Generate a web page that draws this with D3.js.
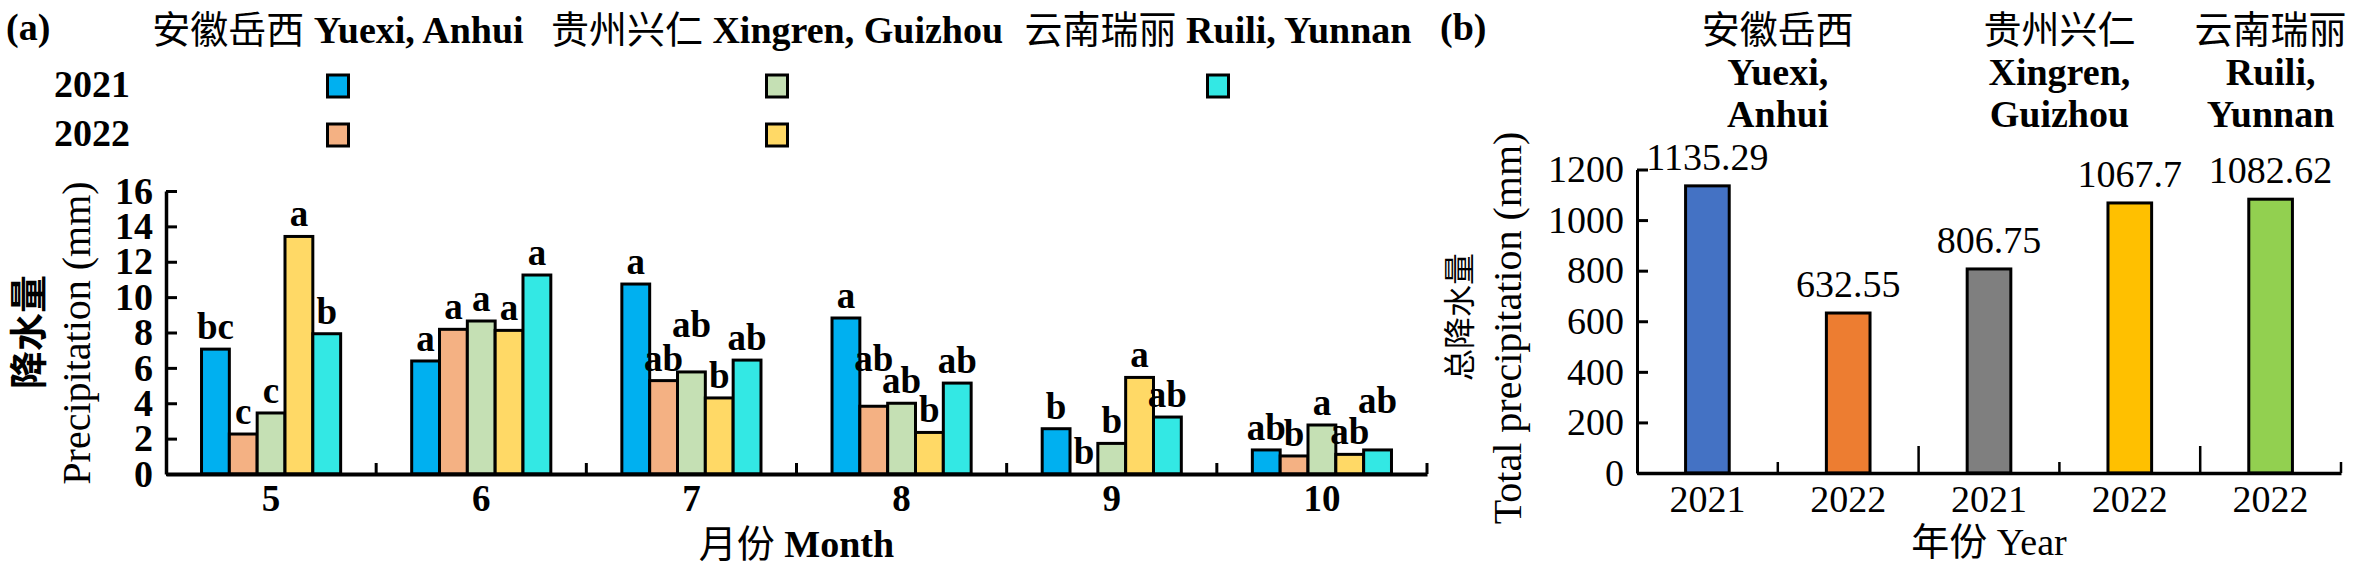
<!DOCTYPE html>
<html><head><meta charset="utf-8">
<script src="https://cdn.jsdelivr.net/npm/d3@7"></script>
<style>
body{margin:0;background:#fff}
text{font-family:"Liberation Serif","Noto Sans CJK SC",serif;fill:#000}
</style>
</head><body>
<svg id="c" width="2360" height="578"></svg>
<script>
// ---------- Panel (a) data ----------
const months = ["5","6","7","8","9","10"];
const seriesKeys = ["anhui2021","anhui2022","guizhou2021","guizhou2022","yunnan2021"];
const anhui2021   = [7.06, 6.39, 10.74, 8.82, 2.56, 1.36];
const anhui2022   = [2.26, 8.18, 5.28, 3.83, 0.00, 1.02];
const guizhou2021 = [3.45, 8.65, 5.77, 4.00, 1.73, 2.77];
const guizhou2022 = [13.43, 8.12, 4.30, 2.35, 5.46, 1.11];
const yunnan2021  = [7.93, 11.25, 6.44, 5.14, 3.22, 1.36];
const lettersAnhui2021   = ["bc","a","a","a","b","ab"];
const lettersAnhui2022   = ["c","a","ab","ab","b","b"];
const lettersGuizhou2021 = ["c","a","ab","ab","b","a"];
const lettersGuizhou2022 = ["a","a","b","b","a","ab"];
const lettersYunnan2021  = ["b","a","ab","ab","ab","ab"];
const yTicksA = [0,2,4,6,8,10,12,14,16];
const siteHeaders = [["安徽岳西"," Yuexi, Anhui"],["贵州兴仁"," Xingren, Guizhou"],["云南瑞丽"," Ruili, Yunnan"]];
const legendYears = ["2021","2022"];

// ---------- Panel (b) data ----------
const totalSites = ["安徽岳西","安徽岳西","贵州兴仁","贵州兴仁","云南瑞丽"];
const totalYears = ["2021","2022","2021","2022","2022"];
const totalValues = [1135.29, 632.55, 806.75, 1067.7, 1082.62];
const totalLabels = ["1135.29","632.55","806.75","1067.7","1082.62"];
const siteNamesB = [["安徽岳西","Yuexi,","Anhui"],["贵州兴仁","Xingren,","Guizhou"],["云南瑞丽","Ruili,","Yunnan"]];
const yTicksB = [0,200,400,600,800,1000,1200];

// ---------- styles ----------
const colorsA = ["#00B0F0","#F4B183","#C5E0B4","#FFD966","#33E8E4"];
const colorsB = ["#4472C4","#ED7D31","#7F7F7F","#FFC000","#92D050"];
const FONT = "'Liberation Serif','Noto Sans CJK SC',serif";

const svg = d3.select("#c");
const seriesVals = [anhui2021, anhui2022, guizhou2021, guizhou2022, yunnan2021];
const seriesLetters = [lettersAnhui2021, lettersAnhui2022, lettersGuizhou2021, lettersGuizhou2022, lettersYunnan2021];

// ================= Panel (a) =================
const A = {x0:166, x1:1427, y0:474, y1:191};
const xM = d3.scaleBand().domain(months).range([A.x0, A.x1]).paddingInner(0.338).paddingOuter(0.169);
const xS = d3.scaleBand().domain(seriesKeys).range([0, xM.bandwidth()]);
const yA = d3.scaleLinear().domain([0,16]).range([A.y0, A.y1]);

const gA = svg.append("g");
const flat = [];
months.forEach((m,i)=>seriesKeys.forEach((k,j)=>flat.push({m, k, j, v:seriesVals[j][i], l:seriesLetters[j][i]})));

gA.selectAll("rect.bar").data(flat).join("rect")
  .attr("x", d=>xM(d.m)+xS(d.k)).attr("width", xS.bandwidth())
  .attr("y", d=>yA(d.v)).attr("height", d=>yA(0)-yA(d.v))
  .attr("fill", d=>colorsA[d.j]).attr("stroke","#000").attr("stroke-width",3);

const lift = {"7-2":25, "8-1":25, "10-4":27};
gA.selectAll("text.let").data(flat).join("text")
  .attr("x", d=>xM(d.m)+xS(d.k)+xS.bandwidth()/2)
  .attr("y", d=>yA(d.v)-10-(lift[d.m+"-"+d.j]||0))
  .attr("text-anchor","middle").attr("font-size",37).attr("font-weight","bold")
  .text(d=>d.l);

// y axis
const axA = gA.append("g").attr("transform",`translate(${A.x0},0)`)
  .call(d3.axisLeft(yA).tickValues(yTicksA).tickFormat(d3.format("d")).tickSizeInner(-11).tickSizeOuter(0).tickPadding(13));
axA.attr("font-family",FONT);
axA.select(".domain").attr("stroke-width",3.5);
axA.selectAll(".tick line").attr("stroke-width",3);
axA.selectAll("text").attr("font-size",38).attr("font-weight","bold").attr("font-family",FONT);

// x axis
const axAx = gA.append("g").attr("transform",`translate(0,${A.y0})`)
  .call(d3.axisBottom(xM).tickSize(0).tickPadding(11));
axAx.attr("font-family",FONT);
axAx.select(".domain").attr("stroke-width",4);
axAx.selectAll("text").attr("font-size",37).attr("font-weight","bold").attr("font-family",FONT);
const stepA = xM.step();
gA.selectAll("line.bt").data(d3.range(1, months.length+1)).join("line")
  .attr("x1", i=>A.x0+i*stepA).attr("x2", i=>A.x0+i*stepA)
  .attr("y1", A.y0).attr("y2", A.y0-11).attr("stroke","#000").attr("stroke-width",3);

// axis titles
gA.append("text").attr("x",(A.x0+A.x1)/2).attr("y",557).attr("text-anchor","middle").attr("font-size",38)
  .call(t=>{t.append("tspan").text("月份 "); t.append("tspan").attr("font-weight","bold").text("Month");});
gA.append("text").attr("transform","translate(89.5,333) rotate(-90)").attr("text-anchor","middle")
  .attr("font-size",40).text("Precipitation (mm)");
gA.append("text").attr("transform","translate(42,332) rotate(-90)").attr("text-anchor","middle")
  .attr("font-size",38).attr("font-weight","bold").text("降水量");

// legend
gA.append("text").attr("x",6).attr("y",40).attr("font-size",38).attr("font-weight","bold").text("(a)");
const headerCx = [338, 777, 1218];
siteHeaders.forEach((h,i)=>{
  const t = gA.append("text").attr("x",headerCx[i]).attr("y",43).attr("text-anchor","middle").attr("font-size",38);
  t.append("tspan").text(h[0]);
  t.append("tspan").attr("font-weight","bold").text(h[1]);
});
const rowY = [97, 146];
legendYears.forEach((yr,r)=>{
  gA.append("text").attr("x",54).attr("y",rowY[r]).attr("font-size",38).attr("font-weight","bold").text(yr);
});
const legendItems = [{j:0,c:0,r:0},{j:1,c:0,r:1},{j:2,c:1,r:0},{j:3,c:1,r:1},{j:4,c:2,r:0}];
gA.selectAll("rect.sw").data(legendItems).join("rect")
  .attr("x", d=>headerCx[d.c]-10.5).attr("y", d=>rowY[d.r]-22).attr("width",21).attr("height",22)
  .attr("fill", d=>colorsA[d.j]).attr("stroke","#000").attr("stroke-width",3);

// ================= Panel (b) =================
const B = {x0:1637, x1:2341, y0:473, y1:169.5};
const idx = d3.range(totalValues.length);
const xB = d3.scaleBand().domain(idx).range([B.x0, B.x1]).paddingInner(0.69).paddingOuter(0.345);
const yB = d3.scaleLinear().domain([0,1200]).range([B.y0, B.y1]);
const gB = svg.append("g");

gB.selectAll("rect.tb").data(idx).join("rect")
  .attr("x", i=>xB(i)).attr("width", xB.bandwidth())
  .attr("y", i=>yB(totalValues[i])).attr("height", i=>yB(0)-yB(totalValues[i]))
  .attr("fill", i=>colorsB[i]).attr("stroke","#000").attr("stroke-width",3);
gB.selectAll("text.val").data(idx).join("text")
  .attr("x", i=>xB(i)+xB.bandwidth()/2).attr("y", i=>yB(totalValues[i])-16)
  .attr("text-anchor","middle").attr("font-size",38).text(i=>totalLabels[i]);

const axB = gB.append("g").attr("transform",`translate(${B.x0},0)`)
  .call(d3.axisLeft(yB).tickValues(yTicksB).tickFormat(d3.format("d")).tickSizeInner(-11).tickSizeOuter(0).tickPadding(13));
axB.attr("font-family",FONT);
axB.select(".domain").attr("stroke-width",3);
axB.selectAll(".tick line").attr("stroke-width",3);
axB.selectAll("text").attr("font-size",38).attr("font-family",FONT);

const axBx = gB.append("g").attr("transform",`translate(0,${B.y0})`)
  .call(d3.axisBottom(xB).tickSize(0).tickPadding(12).tickFormat(i=>totalYears[i]));
axBx.attr("font-family",FONT);
axBx.select(".domain").attr("stroke-width",3.5);
axBx.selectAll("text").attr("font-size",38).attr("font-family",FONT);
const stepB = xB.step();
gB.selectAll("line.bt").data(d3.range(1, idx.length+1)).join("line")
  .attr("x1", i=>B.x0+i*stepB).attr("x2", i=>B.x0+i*stepB)
  .attr("y1", B.y0)
  .attr("y2", i=> (i<idx.length && totalSites[i]!==totalSites[i-1]) ? B.y0-27 : B.y0-11)
  .attr("stroke","#000").attr("stroke-width",2.5);

// site headers centred over their bars
const siteList = Array.from(new Set(totalSites));
siteList.forEach((s,k)=>{
  const members = idx.filter(i=>totalSites[i]===s);
  const cx = d3.mean(members, i=>xB(i)+xB.bandwidth()/2);
  const t = gB.append("text").attr("text-anchor","middle").attr("font-size",38);
  siteNamesB[k].forEach((ln,li)=>{
    t.append("tspan").attr("x",cx).attr("y",43+li*42).attr("font-weight", li===0?"normal":"bold").text(ln);
  });
});

gB.append("text").attr("x",1440).attr("y",40).attr("font-size",38).attr("font-weight","bold").text("(b)");
gB.append("text").attr("x",(B.x0+B.x1)/2).attr("y",555).attr("text-anchor","middle").attr("font-size",38).text("年份 Year");
gB.append("text").attr("transform","translate(1521,328) rotate(-90)").attr("text-anchor","middle")
  .attr("font-size",40).text("Total precipitation (mm)");
gB.append("text").attr("transform","translate(1471,317) rotate(-90)").attr("text-anchor","middle")
  .attr("font-size",32).text("总降水量");
</script>
</body></html>
